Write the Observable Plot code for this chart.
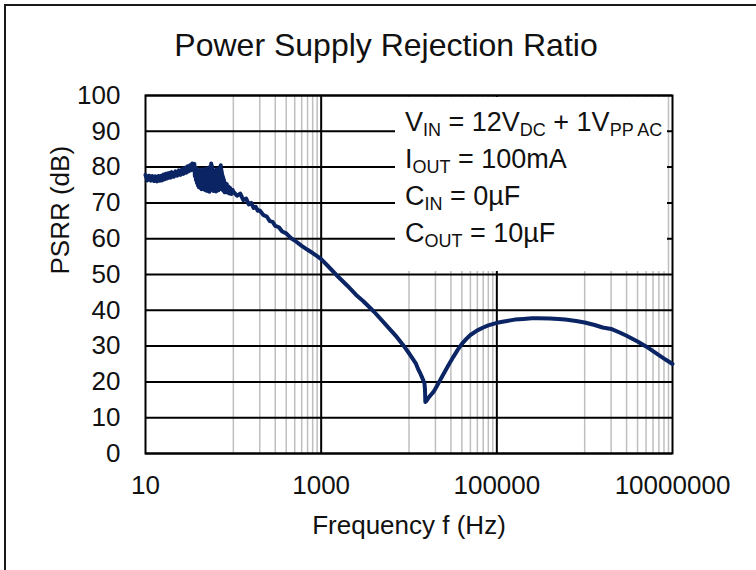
<!DOCTYPE html>
<html><head><meta charset="utf-8">
<script src="https://cdn.jsdelivr.net/npm/d3@7"></script>
<script src="https://cdn.jsdelivr.net/npm/@observablehq/plot@0.6"></script>
<style>
html,body{margin:0;padding:0;background:#fff;}
#wrap{position:relative;width:756px;height:570px;overflow:hidden;font-family:"Liberation Sans",Arial,sans-serif;}
#wrap svg{position:absolute;left:0;top:0;}
#border{position:absolute;left:4px;top:4px;width:820px;height:640px;border:2px solid #1a1a1a;box-sizing:border-box;pointer-events:none;}
</style></head><body><div id="wrap"><div id="border"></div></div>
<script>
// ---- data ----
const freq = [
  10,10.5,11,11.5,12,12.5,13,13.5,14,14.5,15,15.5,16,16.5,17,17.5,18,18.5,19,19.5,
  20,21,22,23,24,25,26,27,28,29,30,31,32,33,34,35,
  36,36.5,37,37.5,38,38.5,39,39.5,40,40.5,
  41,41.5,42,42.5,43,43.5,44,44.5,45,45.5,
  46,46.5,47,47.5,48,48.5,49,49.5,50,50.5,
  51,51.5,52,52.5,53,53.5,54,54.5,55,55.5,
  56,56.5,57,57.5,58,58.5,59,59.5,60,60.5,
  61,61.5,62,62.5,63,63.5,64,64.5,65,65.5,
  66,66.5,67,67.5,68,68.5,69,69.5,70,70.5,
  71,71.5,72,72.5,73,73.5,74,74.5,75,75.5,
  76,76.5,77,77.5,78,78.5,79,79.5,80,
  82,84,86,88,90,92,95,98,
  100,110,120,130,140,150,160,170,180,190,200,220,240,260,280,300,330,360,400,450,500,600,700,800,900,
  1000,1200,1500,2000,2500,3000,3500,4000,5000,6000,7000,8000,9000,10000,11000,12000,12800,13500,14000,14600,15000,15200,15350,15700,16500,17500,19000,20500,22500,
  25000,28000,32000,36000,40000,45000,50000,60000,70000,80000,100000,130000,160000,200000,250000,300000,400000,500000,600000,800000,
  1000000,1300000,1600000,2000000,2500000,3000000,4000000,5000000,6000000,7000000,8500000,10000000
];
const psrr = [
  77.8,76.3,77.6,76.2,77.5,76.1,77.4,76.0,77.5,76.2,77.6,76.3,77.9,76.6,78.1,76.8,78.3,77.0,78.4,77.1,
  78.6,77.3,78.8,77.6,79.1,77.8,79.4,78.1,79.8,78.4,80.2,78.8,80.5,79.1,81.0,79.3,
  80.9,77.5,79.9,76.4,79.6,75.6,78.8,74.9,79.0,74.4,
  78.6,75.2,79.3,74.1,78.2,73.8,79.0,74.6,78.5,73.9,
  79.4,74.3,78.1,73.6,79.2,74.8,78.7,73.4,79.6,74.0,
  78.3,73.3,79.1,74.5,78.4,73.1,80.0,74.2,79.2,73.6,
  81.0,75.0,80.4,73.8,79.3,74.4,78.6,73.3,79.0,74.7,
  78.2,73.5,78.8,74.1,77.9,73.2,79.4,74.6,78.3,73.7,
  78.9,74.4,78.0,73.5,79.1,74.2,78.5,73.8,79.8,74.9,
  80.2,74.5,80.5,75.1,79.4,74.3,78.6,73.9,77.8,73.6,
  77.4,73.8,76.9,73.4,76.5,73.2,76.0,73.0,75.6,
  73.0,75.3,72.9,74.6,72.6,74.2,72.5,73.6,
  73.2,72.0,72.6,70.8,71.2,69.6,70.0,68.6,68.9,67.8,67.9,66.6,66.2,64.9,64.7,63.6,63.2,62.0,61.5,60.2,59.5,58.0,56.9,56.0,55.1,
  54.3,52.3,49.8,46.8,44.3,42.6,41.0,39.6,37.0,34.8,33.0,31.2,29.6,28.0,26.5,25.1,23.4,22.3,21.4,20.3,19.6,18.0,14.4,14.6,15.4,16.2,17.2,18.6,20.4,
  22.4,24.6,27.0,29.0,30.6,32.0,33.1,34.4,35.2,35.8,36.5,37.0,37.4,37.6,37.8,37.8,37.7,37.6,37.4,37.0,
  36.6,35.9,35.2,34.8,33.8,32.9,31.3,29.9,28.6,27.5,26.1,25.0
];
const yTicks = [0,10,20,30,40,50,60,70,80,90,100];
const xTicks = [10,1000,100000,10000000];
const majorX = [1000,100000];
const minorX = [100,200,300,400,500,600,700,800,900,
                10000,20000,30000,40000,50000,60000,70000,80000,90000,
                1000000,2000000,3000000,4000000,5000000,6000000,7000000,8000000,9000000];
const titleText = "Power Supply Rejection Ratio";
const xLabel = "Frequency f (Hz)";
const yLabel = "PSRR (dB)";
// annotation lines: [text, isSubscript]
const noteLines = [
  [["V",0],["IN",1],[" = 12V",0],["DC",1],[" + 1V",0],["PP AC",1]],
  [["I",0],["OUT",1],[" = 100mA",0]],
  [["C",0],["IN",1],[" = 0µF",0]],
  [["C",0],["OUT",1],[" = 10µF",0]]
];

// ---- chart ----
const FONT = '"Liberation Sans", Arial, sans-serif';
const INK = "#111";
const rows = freq.map((f, i) => ({f, db: psrr[i]}));

const chart = Plot.plot({
  width: 756, height: 570,
  marginLeft: 145, marginRight: 84, marginTop: 95, marginBottom: 117,
  style: {fontFamily: FONT, fontSize: "26px", color: INK, background: "transparent", overflow: "visible"},
  x: {type: "log", domain: [10, 1e7]},
  y: {domain: [0, 100]},
  marks: [
    Plot.ruleX(minorX, {stroke: "#bfbfbf", strokeWidth: 1.5}),
    Plot.ruleY(yTicks, {stroke: "#000", strokeWidth: 2}),
    Plot.ruleX(majorX, {stroke: "#000", strokeWidth: 2}),
    Plot.frame({stroke: "#000", strokeWidth: 2}),
    Plot.axisX(xTicks, {tickSize: 0, tickPadding: 22, tickFormat: d3.format("d"), fontSize: 26, label: null, fill: INK}),
    Plot.axisY(yTicks, {tickSize: 0, tickPadding: 25, fontSize: 26, label: null, fill: INK}),
    Plot.line(rows, {x: "f", y: "db", stroke: "#0a2464", strokeWidth: 4, strokeLinejoin: "round", strokeLinecap: "round"}),
    Plot.text([titleText], {frameAnchor: "top", dx: -23, dy: -40, lineAnchor: "bottom", fontSize: 32, fill: INK}),
    Plot.text([xLabel], {frameAnchor: "bottom", dy: 80, lineAnchor: "bottom", fontSize: 26, fill: INK}),
    Plot.text([yLabel], {frameAnchor: "left", dx: -77, rotate: -90, lineAnchor: "bottom", fontSize: 26, fill: INK})
  ]
});

// annotation box (text with subscripts)
const svg = d3.select(chart);
const g = svg.append("g").attr("font-family", FONT).attr("fill", INK)
  .attr("text-anchor", "start").style("white-space", "pre");
g.append("rect").attr("x", 395).attr("y", 97).attr("width", 272).attr("height", 174).attr("fill", "#fff");
const baselines = [131, 168, 205, 242];
noteLines.forEach((parts, i) => {
  const t = g.append("text").attr("x", 405).attr("y", baselines[i]).attr("font-size", 27).attr("text-anchor", "start");
  let shifted = false;
  parts.forEach(([s, sub]) => {
    const ts = t.append("tspan").text(s);
    if (sub && !shifted) { ts.attr("font-size", 18).attr("dy", 5); shifted = true; }
    else if (sub) { ts.attr("font-size", 18); }
    else if (!sub && shifted) { ts.attr("dy", -5); shifted = false; }
  });
});

document.getElementById("wrap").appendChild(chart);
</script>
</body></html>
